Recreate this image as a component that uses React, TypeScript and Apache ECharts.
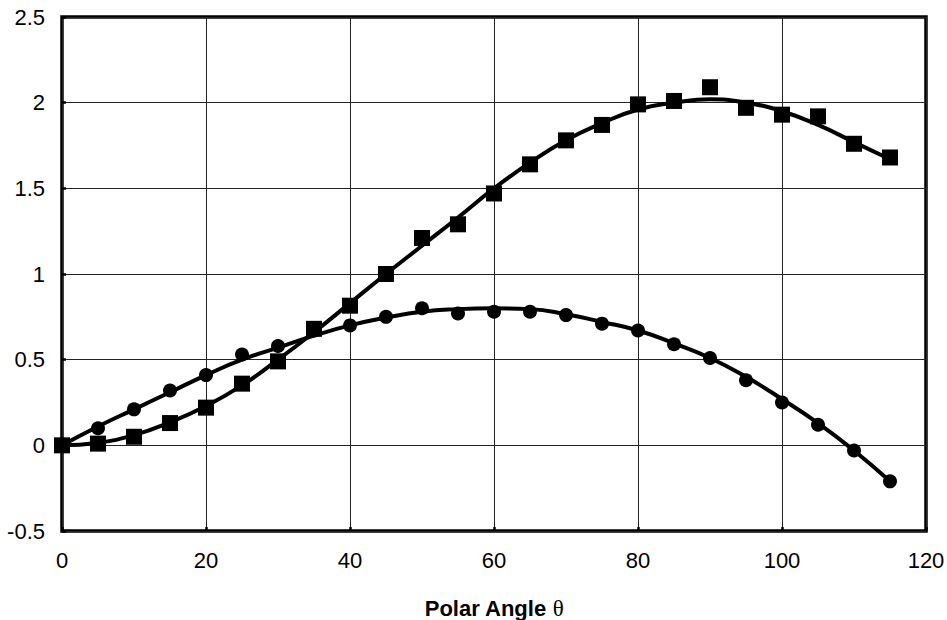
import React, { useEffect, useRef } from "react";
import * as echarts from "echarts";

const angles = [0, 5, 10, 15, 20, 25, 30, 35, 40, 45, 50, 55, 60, 65, 70, 75, 80, 85, 90, 95, 100, 105, 110, 115];
const squareData = [0, 0.01, 0.05, 0.13, 0.22, 0.36, 0.49, 0.68, 0.815, 1.0, 1.21, 1.29, 1.47, 1.64, 1.78, 1.87, 1.99, 2.01, 2.09, 1.97, 1.93, 1.92, 1.76, 1.68];
const circleData = [0, 0.1, 0.21, 0.32, 0.41, 0.53, 0.58, 0.67, 0.7, 0.75, 0.8, 0.77, 0.78, 0.78, 0.76, 0.71, 0.67, 0.59, 0.51, 0.38, 0.25, 0.12, -0.03, -0.21];
const squareFit = [0, 0.015, 0.06, 0.135, 0.23, 0.35, 0.5, 0.66, 0.83, 1.0, 1.165, 1.33, 1.5, 1.65, 1.78, 1.88, 1.96, 2.0, 2.02, 2.0, 1.95, 1.87, 1.77, 1.67];
const circleFit = [0, 0.11, 0.21, 0.31, 0.41, 0.5, 0.57, 0.64, 0.7, 0.745, 0.78, 0.795, 0.8, 0.795, 0.765, 0.72, 0.67, 0.595, 0.51, 0.4, 0.27, 0.13, -0.03, -0.21];

const FONT = "'Liberation Sans', Arial, sans-serif";

export default function App() {
  const ref = useRef<HTMLDivElement>(null);
  useEffect(() => {
    if (!ref.current) return;
    const chart = echarts.init(ref.current, undefined, { renderer: "svg" });
    const pair = (ys: number[]) => angles.map((a, i) => [a, ys[i]]);
    chart.setOption({
      animation: false,
      backgroundColor: "#fff",
      grid: {
        left: 62,
        right: 21,
        top: 17,
        bottom: 89,
        show: true,
        borderColor: "#000",
        borderWidth: 3.5,
        containLabel: false,
        outerBoundsMode: "none",
      },
      xAxis: {
        type: "value",
        min: 0,
        max: 120,
        interval: 20,
        name: "{a|Polar Angle }{b|θ}",
        nameLocation: "middle",
        nameGap: 66,
        nameTextStyle: {
          rich: {
            a: { fontFamily: FONT, fontSize: 22, fontWeight: "bold", color: "#000" },
            b: { fontFamily: "'Liberation Serif', serif", fontSize: 23, color: "#000" },
          },
        },
        axisLine: { show: false, onZero: false },
        axisTick: { show: true, inside: true, length: 4, lineStyle: { color: "#000", width: 2.5 } },
        axisLabel: { color: "#000", fontFamily: FONT, fontSize: 22, margin: 18 },
        splitLine: { show: true, lineStyle: { color: "#222", width: 1 } },
      },
      yAxis: {
        type: "value",
        min: -0.5,
        max: 2.5,
        interval: 0.5,
        axisLine: { show: false, onZero: false },
        axisTick: { show: true, inside: true, length: 4, lineStyle: { color: "#000", width: 2.5 } },
        axisLabel: { color: "#000", fontFamily: FONT, fontSize: 22, margin: 17 },
        splitLine: { show: true, lineStyle: { color: "#222", width: 1 } },
      },
      series: [
        {
          type: "line",
          data: pair(squareFit),
          smooth: true,
          showSymbol: false,
          lineStyle: { color: "#000", width: 4 },
          z: 3,
        },
        {
          type: "line",
          data: pair(circleFit),
          smooth: true,
          showSymbol: false,
          lineStyle: { color: "#000", width: 4 },
          z: 3,
        },
        {
          type: "scatter",
          data: pair(squareData),
          symbol: "rect",
          symbolSize: 16,
          itemStyle: { color: "#000", opacity: 1 },
          z: 4,
        },
        {
          type: "scatter",
          data: pair(circleData),
          symbol: "circle",
          symbolSize: 14,
          itemStyle: { color: "#000", opacity: 1 },
          z: 4,
        },
      ],
    });
    return () => chart.dispose();
  }, []);
  return <div ref={ref} style={{ width: 947, height: 620, position: "absolute", left: 0, top: 0 }} />;
}
